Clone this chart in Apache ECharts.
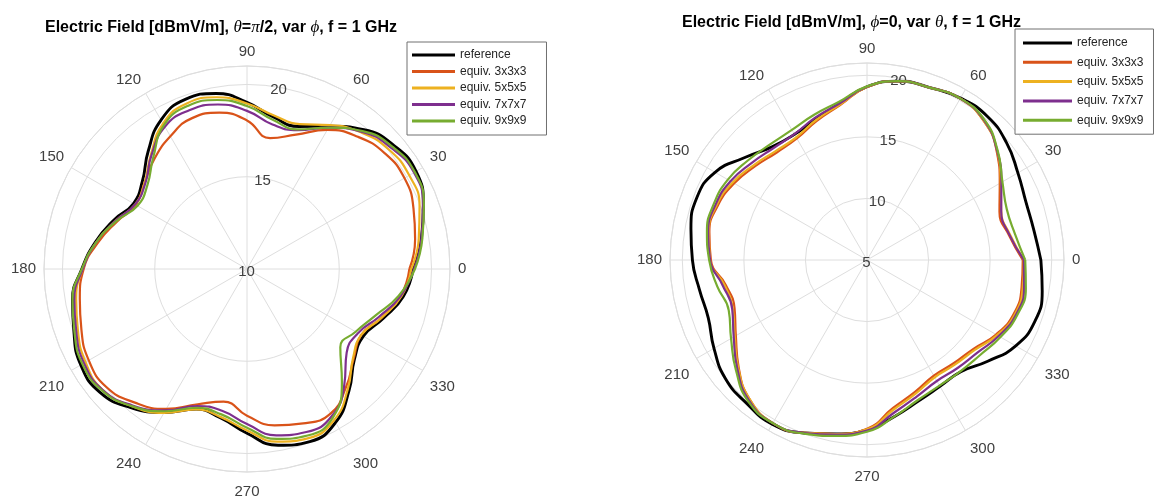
<!DOCTYPE html>
<html>
<head>
<meta charset="utf-8">
<script src="https://cdn.jsdelivr.net/npm/echarts@6/dist/echarts.min.js"></script>
<style>
  html, body { margin: 0; padding: 0; background: #ffffff; }
  #chart { width: 1157px; height: 498px; }
</style>
</head>
<body>
<div id="chart"></div>
<script>
// Sample angles (degrees) shared by every curve; each pattern closes at 360.
const sampleAngles = [0, 10, 20, 30, 40, 50, 60, 70, 80, 90, 100, 110,
                      120, 130, 140, 150, 160, 170, 180, 190, 200, 210, 220, 230,
                      240, 250, 260, 270, 280, 290, 300, 310, 320, 330, 340, 350];

const seriesNames = ['reference', 'equiv. 3x3x3', 'equiv. 5x5x5', 'equiv. 7x7x7', 'equiv. 9x9x9'];

// theta = pi/2, phi varies  [dBmV/m]
const phiReference = [19.0, 19.6, 20.17, 20.58, 20.4, 19.85, 18.93, 18.22, 18.35, 19.03, 19.66, 19.78,
                      19.32, 18.33, 17.4, 17.1, 17.7, 18.35, 18.95, 19.6, 19.98, 20.4, 20.4, 19.8,
                      18.98, 18.08, 18.2, 18.9, 19.7, 19.95, 19.6, 18.6, 17.6, 17.28, 17.85, 18.6];
const phiEquiv3 = [18.8, 19.25, 19.6, 19.85, 19.75, 19.35, 18.7, 17.75, 17.2, 18.05, 18.6, 18.7,
                   18.3, 17.8, 17.25, 16.95, 17.5, 18.2, 18.85, 19.2, 19.55, 19.9, 19.95, 19.45,
                   18.75, 17.8, 17.3, 17.95, 18.6, 18.9, 19.05, 18.35, 17.55, 17.15, 17.75, 18.45];
const phiEquiv5 = [18.9, 19.45, 19.95, 20.15, 20.05, 19.65, 19.0, 18.35, 18.45, 18.97, 19.45, 19.55,
                   19.1, 18.1, 17.25, 17.0, 17.6, 18.3, 18.9, 19.4, 19.75, 20.1, 20.2, 19.7,
                   19.0, 18.1, 18.15, 18.75, 19.5, 19.75, 19.45, 18.5, 17.5, 17.15, 17.75, 18.5];
const phiEquiv7 = [19.05, 19.6, 20.15, 20.45, 20.2, 19.7, 18.85, 18.0, 17.95, 18.57, 19.05, 19.15,
                   18.9, 18.05, 17.2, 17.0, 17.6, 18.3, 18.9, 19.5, 19.85, 20.2, 20.2, 19.65,
                   18.85, 17.9, 17.8, 18.4, 19.15, 19.4, 19.2, 18.2, 17.05, 16.95, 17.6, 18.45];
const phiEquiv9 = [19.1, 19.65, 20.2, 20.5, 20.3, 19.75, 18.85, 18.05, 18.2, 18.83, 19.3, 19.4,
                   19.0, 17.9, 17.05, 16.85, 17.55, 18.3, 18.95, 19.6, 19.95, 20.3, 20.25, 19.7,
                   18.9, 18.0, 18.0, 18.6, 19.35, 19.6, 19.3, 18.0, 16.6, 16.8, 17.4, 18.35];

// phi = 0, theta varies  [dBmV/m]
const thetaReference = [19.12, 18.77, 18.74, 19.15, 19.8, 20.22, 20.18, 19.9, 19.75, 19.07, 17.9, 17.18,
                        16.78, 17.0, 17.95, 19.25, 19.72, 19.52, 19.18, 18.82, 18.72, 19.35, 20.0, 20.2,
                        20.4, 19.95, 19.35, 18.8, 17.9, 17.2, 16.85, 16.85, 17.8, 18.95, 19.52, 19.45];
const thetaEquiv3 = [17.65, 16.7, 16.45, 17.45, 18.75, 19.75, 20.15, 19.9, 19.75, 19.05, 17.75, 17.0,
                     16.4, 16.4, 16.85, 17.45, 17.9, 18.0, 17.68, 16.65, 16.45, 17.3, 18.6, 19.8,
                     20.3, 19.95, 19.35, 18.7, 17.2, 16.4, 15.85, 15.95, 16.25, 17.1, 17.7, 17.75];
const thetaEquiv5 = [17.75, 16.8, 16.6, 17.55, 18.8, 19.75, 20.15, 19.9, 19.75, 19.05, 17.8, 17.1,
                     16.5, 16.55, 17.0, 17.6, 18.0, 18.05, 17.75, 16.75, 16.6, 17.4, 18.65, 19.8,
                     20.3, 19.95, 19.35, 18.75, 17.35, 16.55, 16.0, 16.1, 16.4, 17.2, 17.8, 17.85];
const thetaEquiv7 = [17.75, 16.75, 16.6, 17.6, 18.8, 19.8, 20.15, 19.9, 19.75, 19.07, 17.9, 17.3,
                     16.8, 16.85, 17.25, 17.8, 18.1, 18.1, 17.75, 16.9, 16.65, 17.5, 18.75, 19.9,
                     20.3, 19.95, 19.4, 18.85, 17.6, 16.8, 16.35, 16.45, 16.7, 17.35, 17.9, 17.95];
const thetaEquiv9 = [17.85, 17.2, 17.08, 17.7, 18.85, 19.85, 20.15, 19.9, 19.75, 19.1, 18.05, 17.55,
                     17.2, 17.25, 17.6, 18.05, 18.25, 18.2, 17.82, 17.35, 16.95, 17.75, 18.9, 20.0,
                     20.3, 20.0, 19.5, 18.95, 17.9, 17.1, 16.78, 16.8, 17.0, 17.52, 18.0, 18.1];

// Axis tick labels
const angleTicks = [0, 30, 60, 90, 120, 150, 180, 210, 240, 270, 300, 330];
const phiRadiusTicks = [10, 15, 20];
const thetaRadiusTicks = [5, 10, 15, 20];

const colors = ['#000000', '#D95319', '#EDB120', '#7E2F8E', '#77AC30'];
const widths = [2.9, 2.2, 2.2, 2.2, 2.2];
const GRID = '#dedede';
const FONT = '"Liberation Sans", Arial, Helvetica, sans-serif';

function closedLoop(values) {
  const pts = values.map((v, i) => [v, sampleAngles[i]]);
  pts.push([values[0], 360]);
  return pts;
}

function angleAxisFor(polarIndex) {
  return {
    polarIndex, type: 'value', min: 0, max: 360, interval: 30,
    startAngle: 0, clockwise: false,
    axisLine: { lineStyle: { color: GRID, width: 1 } },
    axisTick: { show: false },
    splitLine: { lineStyle: { color: GRID, width: 1 } },
    axisLabel: {
      margin: 7, padding: [5, 1, 0, 1],
      color: '#404040', fontSize: 15, fontFamily: FONT,
      formatter: v => (angleTicks.indexOf(v) >= 0 ? String(v) : '')
    }
  };
}

// Radius labels sit on their own hidden polar so they can run along 80 degrees.
function labelAngleAxis(polarIndex) {
  return { polarIndex, type: 'value', min: 0, max: 360, startAngle: 80, clockwise: false, show: false };
}

function gridRadiusAxis(polarIndex, min, max) {
  return {
    polarIndex, type: 'value', min, max, interval: 5,
    axisLine: { show: false }, axisTick: { show: false },
    axisLabel: { show: false },
    splitLine: { lineStyle: { color: GRID, width: 1 } }
  };
}

function labelRadiusAxis(polarIndex, min, max, ticks) {
  return {
    polarIndex, type: 'value', min, max, interval: 5,
    axisLine: { show: false }, axisTick: { show: false }, splitLine: { show: false },
    axisLabel: {
      margin: 0, align: 'center', verticalAlign: 'middle',
      color: '#404040', fontSize: 15, fontFamily: FONT,
      showMaxLabel: false,
      formatter: v => (ticks.indexOf(v) >= 0 ? String(v) : '')
    }
  };
}

function legendAt(left, top, itemWidth, gap, padding) {
  return {
    data: seriesNames, orient: 'vertical', left, top,
    icon: 'rect', itemWidth, itemHeight: 3, itemGap: gap,
    padding, borderColor: '#707070', borderWidth: 1, borderRadius: 0,
    backgroundColor: '#ffffff',
    textStyle: { fontSize: 12, color: '#262626', fontFamily: FONT },
    selectedMode: false
  };
}

const greek = { fontFamily: '"Liberation Serif", "DejaVu Serif", serif', fontStyle: 'italic',
                fontWeight: 'normal', fontSize: 17, color: '#000' };
const titleStyle = { fontSize: 16, fontWeight: 'bold', color: '#000', fontFamily: FONT,
                     rich: { g: greek } };

const phiSets = [phiReference, phiEquiv3, phiEquiv5, phiEquiv7, phiEquiv9];
const thetaSets = [thetaReference, thetaEquiv3, thetaEquiv5, thetaEquiv7, thetaEquiv9];

function makeSeries(sets, polarIndex) {
  return sets.map((vals, i) => ({
    name: seriesNames[i], type: 'line', coordinateSystem: 'polar', polarIndex,
    data: closedLoop(vals), smooth: true, symbol: 'none',
    lineStyle: { color: colors[i], width: widths[i] },
    itemStyle: { color: colors[i] },
    z: 2 + i
  }));
}

const chart = echarts.init(document.getElementById('chart'), null, { renderer: 'canvas' });
chart.setOption({
  animation: false,
  backgroundColor: '#ffffff',
  title: [
    { text: 'Electric Field [dBmV/m], {g|θ}={g|π}/2, var {g|ϕ}, f = 1 GHz', left: 45, top: 19,
      padding: 0, textStyle: titleStyle },
    { text: 'Electric Field [dBmV/m], {g|ϕ}=0, var {g|θ}, f = 1 GHz', left: 682, top: 14,
      padding: 0, textStyle: titleStyle }
  ],
  legend: [
    legendAt(407, 42, 43, 4.5, [7, 20, 8, 5]),
    legendAt(1015, 29, 49, 7.3, [8, 10, 8, 8])
  ],
  polar: [
    { center: [247, 269], radius: 203 },
    { center: [246.5, 271.5], radius: 203 },
    { center: [867, 260], radius: 197 },
    { center: [866.5, 262.5], radius: 197 }
  ],
  angleAxis: [angleAxisFor(0), labelAngleAxis(1), angleAxisFor(2), labelAngleAxis(3)],
  radiusAxis: [
    gridRadiusAxis(0, 10, 21),
    labelRadiusAxis(1, 10, 21, phiRadiusTicks),
    gridRadiusAxis(2, 5, 21),
    labelRadiusAxis(3, 5, 21, thetaRadiusTicks)
  ],
  series: makeSeries(phiSets, 0).concat(makeSeries(thetaSets, 2))
});
</script>
</body>
</html>
